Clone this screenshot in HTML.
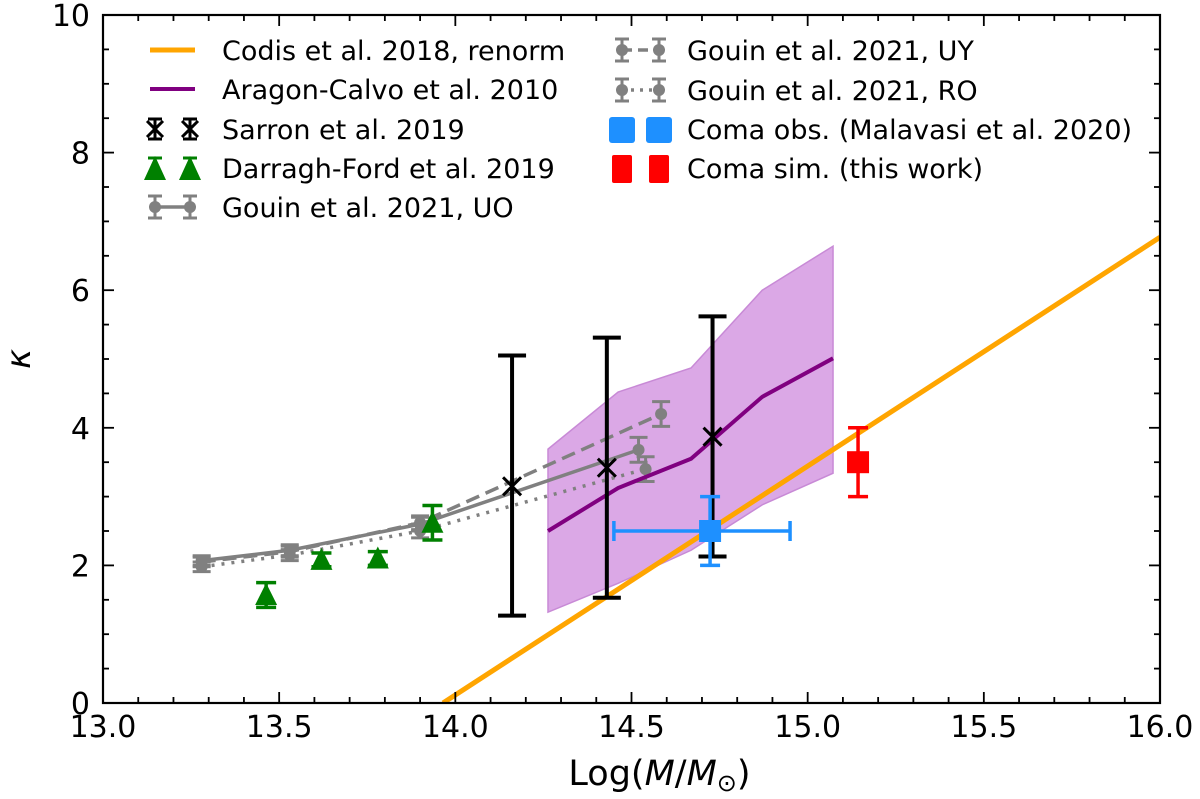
<!DOCTYPE html>
<html><head><meta charset="utf-8"><style>
body{margin:0;background:#fff;}
svg{display:block;font-family:"DejaVu Sans","Liberation Sans",sans-serif;}
</style></head><body>
<svg id="chart" width="1200" height="799" viewBox="0 0 1200 799" xmlns="http://www.w3.org/2000/svg">
<g id="plot"></g>
<g id="axes"></g>
<g id="legend"></g>
</svg>
<script>
// ---- data ----
const codisX = [13.965, 16.0];
const codisY = [0, 6.77];
const aragonX = [14.263, 14.462, 14.669, 14.871, 15.072];
const aragonY = [2.50, 3.125, 3.55, 4.45, 5.01];
const aragonUpper = [3.69, 4.52, 4.87, 6.0, 6.64];
const aragonLower = [1.32, 1.74, 2.22, 2.88, 3.34];
const sarronX = [14.161, 14.43, 14.73];
const sarronY = [3.15, 3.42, 3.87];
const sarronLo = [1.27, 1.53, 2.13];
const sarronHi = [5.05, 5.31, 5.62];
const dfX = [13.463, 13.62, 13.78, 13.935];
const dfY = [1.57, 2.08, 2.10, 2.62];
const dfErr = [0.18, 0.1, 0.1, 0.25];
const uoX = [13.28, 13.53, 13.9, 14.52];
const uoY = [2.07, 2.22, 2.60, 3.68];
const uyX = [13.28, 13.53, 13.9, 14.584];
const uyY = [2.05, 2.20, 2.62, 4.20];
const roX = [13.28, 13.53, 13.9, 14.54];
const roY = [1.98, 2.15, 2.50, 3.40];
const gouinErr = [0.07, 0.08, 0.1, 0.18];
const comaObsX = [14.723];
const comaObsY = [2.5];
const comaObsXLo = [14.45];
const comaObsXHi = [14.95];
const comaObsYErr = [0.5];
const comaSimX = [15.143];
const comaSimY = [3.5];
const comaSimYErr = [0.5];
const xTicks = [13.0, 13.5, 14.0, 14.5, 15.0, 15.5, 16.0];
const xTickLabels = ["13.0","13.5","14.0","14.5","15.0","15.5","16.0"];
const yTicks = [0, 2, 4, 6, 8, 10];
const yTickLabels = ["0","2","4","6","8","10"];

// ---- scales ----
const X0=103, X1=1160, Y0=703, Y1=15;
const sx = v => X0 + (v-13)/(16-13)*(X1-X0);
const sy = v => Y0 - v/10*(Y0-Y1);
const NS="http://www.w3.org/2000/svg";
function mk(parent, tag, attrs){const e=document.createElementNS(NS,tag);for(const k in attrs)e.setAttribute(k,attrs[k]);parent.appendChild(e);return e;}
const plot=document.getElementById('plot'), axes=document.getElementById('axes'), leg=document.getElementById('legend');

const defs=mk(document.getElementById('chart'),'defs',{});
const cp=mk(defs,'clipPath',{id:'clip'});mk(cp,'rect',{x:X0,y:Y1,width:X1-X0,height:Y0-Y1});
plot.setAttribute('clip-path','url(#clip)');

let pts=aragonX.map((x,i)=>sx(x)+','+sy(aragonUpper[i])).concat(aragonX.map((x,i)=>sx(x)+','+sy(aragonLower[i])).reverse());
let band=mk(plot,'polygon',{points:pts.join(' '),fill:'#dba8e6',stroke:'#c88ad6','stroke-width':1.5});



function line(xs,ys,attrs,name){const l=mk(plot,'polyline',Object.assign({points:xs.map((x,i)=>sx(x)+','+sy(ys[i])).join(' '),fill:'none'},attrs));

return l;}
function vbar(x,lo,hi,color,w,cap){const g=mk(plot,'g',{stroke:color,'stroke-width':w});
mk(g,'line',{x1:sx(x),x2:sx(x),y1:sy(lo),y2:sy(hi)});
mk(g,'line',{x1:sx(x)-cap,x2:sx(x)+cap,y1:sy(lo),y2:sy(lo)});
mk(g,'line',{x1:sx(x)-cap,x2:sx(x)+cap,y1:sy(hi),y2:sy(hi)});

return g;}

const grey='#808080';
[[uoX,uoY,'','gouin-uo-line'],[uyX,uyY,'14 7','gouin-uy-line'],[roX,roY,'3 7','gouin-ro-line']].forEach(([xs,ys,d,n])=>{
 line(xs,ys,{stroke:grey,'stroke-width':3.5,'stroke-dasharray':d},n);
 xs.forEach((x,i)=>{vbar(x,ys[i]-gouinErr[i],ys[i]+gouinErr[i],grey,3,9);
  const c=mk(plot,'circle',{cx:sx(x),cy:sy(ys[i]),r:6,fill:grey});
  
  });
});

line(codisX,codisY,{stroke:'#ffa500','stroke-width':5},'codis-line');
line(aragonX,aragonY,{stroke:'#800080','stroke-width':4},'aragon-calvo-line');

dfX.forEach((x,i)=>{vbar(x,dfY[i]-dfErr[i],dfY[i]+dfErr[i],'#008000',3.5,10);
 const cx=sx(x),cy=sy(dfY[i]);
 const t=mk(plot,'polygon',{points:`${cx},${cy-12} ${cx-11},${cy+10} ${cx+11},${cy+10}`,fill:'#008000'});
 
 });

sarronX.forEach((x,i)=>{vbar(x,sarronLo[i],sarronHi[i],'#000',4,14);
 const cx=sx(x),cy=sy(sarronY[i]);const g=mk(plot,'g',{stroke:'#000','stroke-width':3});
 mk(g,'line',{x1:cx-9,y1:cy-9,x2:cx+9,y2:cy+9});mk(g,'line',{x1:cx-9,y1:cy+9,x2:cx+9,y2:cy-9});
 
 });

comaObsX.forEach((x,i)=>{const c='#1e90ff';vbar(x,comaObsY[i]-comaObsYErr[i],comaObsY[i]+comaObsYErr[i],c,3.5,10);
 const y=sy(comaObsY[i]);const g=mk(plot,'g',{stroke:c,'stroke-width':3.5});
 mk(g,'line',{x1:sx(comaObsXLo[i]),x2:sx(comaObsXHi[i]),y1:y,y2:y});
 mk(g,'line',{x1:sx(comaObsXLo[i]),x2:sx(comaObsXLo[i]),y1:y-10,y2:y+10});
 mk(g,'line',{x1:sx(comaObsXHi[i]),x2:sx(comaObsXHi[i]),y1:y-10,y2:y+10});
 
 
 const r=mk(plot,'rect',{x:sx(x)-11,y:y-11,width:22,height:22,fill:c});
 
 });

comaSimX.forEach((x,i)=>{vbar(x,comaSimY[i]-comaSimYErr[i],comaSimY[i]+comaSimYErr[i],'#ff0000',3.5,10);
 const r=mk(plot,'rect',{x:sx(x)-11,y:sy(comaSimY[i])-11,width:22,height:22,fill:'#ff0000'});
 
 });

mk(axes,'rect',{x:X0,y:Y1,width:X1-X0,height:Y0-Y1,fill:'none',stroke:'#000','stroke-width':2.2});
for(let v=13;v<=16.0001;v+=0.1){const x=sx(v);const major=Math.abs(v*2-Math.round(v*2))<1e-6;const L=major?11:6;
 mk(axes,'line',{x1:x,x2:x,y1:Y0,y2:Y0-L,stroke:'#000','stroke-width':1.8});
 mk(axes,'line',{x1:x,x2:x,y1:Y1,y2:Y1+L,stroke:'#000','stroke-width':1.8});}
for(let v=0;v<=10.0001;v+=0.5){const y=sy(v);const major=Math.abs(v/2-Math.round(v/2))<1e-6;const L=major?11:6;
 mk(axes,'line',{x1:X0,x2:X0+L,y1:y,y2:y,stroke:'#000','stroke-width':1.8});
 mk(axes,'line',{x1:X1,x2:X1-L,y1:y,y2:y,stroke:'#000','stroke-width':1.8});}
xTicks.forEach((v,i)=>{const t=mk(axes,'text',{x:sx(v),y:737,'font-size':30,'text-anchor':'middle'});t.textContent=xTickLabels[i];
 
 });
yTicks.forEach((v,i)=>{const t=mk(axes,'text',{x:90,y:sy(v)+11,'font-size':30,'text-anchor':'end'});t.textContent=yTickLabels[i];
 
 });
let xt=mk(axes,'text',{x:(X0+X1)/2+28,y:785,'font-size':35,'text-anchor':'middle'});
xt.innerHTML='Log(<tspan font-style="italic">M</tspan>/<tspan font-style="italic">M</tspan><tspan font-size="24" dy="6">⊙</tspan><tspan dy="-6">)</tspan>';


let yt=mk(axes,'text',{x:0,y:0,'font-size':34,'font-style':'italic','text-anchor':'middle',transform:`translate(30,${sy(5)}) rotate(-90)`});
yt.textContent='κ';



function lt(x,y,s){const t=mk(leg,'text',{x:x,y:y+10,'font-size':27});t.textContent=s;
 
 }
function lbar(x,y,c,h){mk(leg,'line',{x1:x,x2:x,y1:y-h,y2:y+h,stroke:c,'stroke-width':3});
 mk(leg,'line',{x1:x-7,x2:x+7,y1:y-h,y2:y-h,stroke:c,'stroke-width':3});mk(leg,'line',{x1:x-7,x2:x+7,y1:y+h,y2:y+h,stroke:c,'stroke-width':3});}
const L1=150,L2=195;
mk(leg,'line',{x1:L1,x2:L2,y1:50,y2:50,stroke:'#ffa500','stroke-width':5});lt(222,50,'Codis et al. 2018, renorm');
mk(leg,'line',{x1:L1,x2:L2,y1:89,y2:89,stroke:'#800080','stroke-width':4});lt(222,89,'Aragon-Calvo et al. 2010');
[155,190].forEach(x=>{lbar(x,129,'#000',10);mk(leg,'line',{x1:x-8,x2:x+8,y1:121,y2:137,stroke:'#000','stroke-width':3});mk(leg,'line',{x1:x-8,x2:x+8,y1:137,y2:121,stroke:'#000','stroke-width':3});});lt(222,129,'Sarron et al. 2019');
[155,190].forEach(x=>{lbar(x,168,'#008000',10);mk(leg,'polygon',{points:`${x},${156} ${x-11},${180} ${x+11},${180}`,fill:'#008000'});});lt(222,168,'Darragh-Ford et al. 2019');
mk(leg,'line',{x1:155,x2:190,y1:207,y2:207,stroke:grey,'stroke-width':3.5});
[155,190].forEach(x=>{lbar(x,207,grey,11);mk(leg,'circle',{cx:x,cy:207,r:6,fill:grey});});lt(222,207,'Gouin et al. 2021, UO');
const R1=622,R2=659;
mk(leg,'line',{x1:R1,x2:R2,y1:50,y2:50,stroke:grey,'stroke-width':3.5,'stroke-dasharray':'10 6'});
[R1,R2].forEach(x=>{lbar(x,50,grey,11);mk(leg,'circle',{cx:x,cy:50,r:6,fill:grey});});lt(687,50,'Gouin et al. 2021, UY');
mk(leg,'line',{x1:R1,x2:R2,y1:90,y2:90,stroke:grey,'stroke-width':3.5,'stroke-dasharray':'3 6'});
[R1,R2].forEach(x=>{lbar(x,90,grey,11);mk(leg,'circle',{cx:x,cy:90,r:6,fill:grey});});lt(687,90,'Gouin et al. 2021, RO');
[R1,R2].forEach(x=>{mk(leg,'rect',{x:x-13,y:117,width:26,height:26,rx:3,fill:'#1e90ff'});});lt(687,129,'Coma obs. (Malavasi et al. 2020)');
[R1,R2].forEach(x=>{mk(leg,'rect',{x:x-10,y:155,width:20,height:28,rx:2,fill:'#ff0000'});});lt(687,168,'Coma sim. (this work)');
</script>
</body></html>
